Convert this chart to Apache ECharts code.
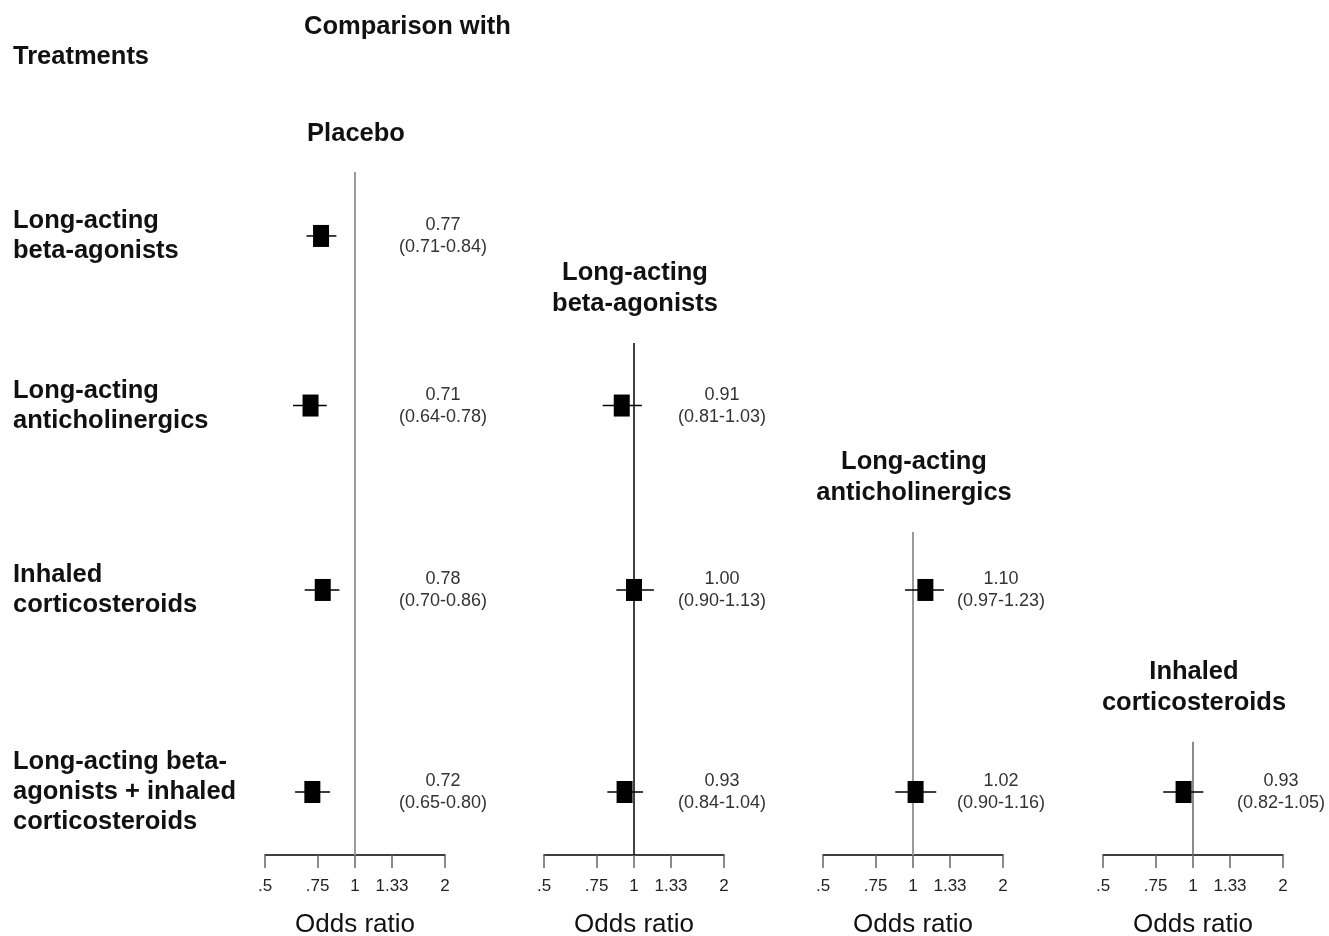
<!DOCTYPE html>
<html>
<head>
<meta charset="utf-8">
<script src="https://cdn.jsdelivr.net/npm/echarts@6/dist/echarts.min.js"></script>
<style>
html,body{margin:0;padding:0;background:#fff;}
#chart{width:1329px;height:936px;}
</style>
</head>
<body>
<div id="chart"></div>
<script>
// ---------- DATA ----------
const treatments = [
  'Long-acting\nbeta-agonists',
  'Long-acting\nanticholinergics',
  'Inhaled\ncorticosteroids',
  'Long-acting beta-\nagonists + inhaled\ncorticosteroids'
];
const comparators = [
  'Placebo',
  'Long-acting\nbeta-agonists',
  'Long-acting\nanticholinergics',
  'Inhaled\ncorticosteroids'
];
const tickValues = [0.5, 0.75, 1, 1.33, 2];
const tickLabels = ['.5', '.75', '1', '1.33', '2'];
const axisTitle = 'Odds ratio';
const headerLeft = 'Treatments';
const headerRight = 'Comparison with';

// Comparison with Placebo (rows: treatments 0..3)
const placeboRows = [0, 1, 2, 3];
const placeboOR = [0.77, 0.71, 0.78, 0.72];
const placeboLo = [0.71, 0.64, 0.70, 0.65];
const placeboHi = [0.84, 0.78, 0.86, 0.80];
// Comparison with Long-acting beta-agonists
const labaRows = [1, 2, 3];
const labaOR = [0.91, 1.00, 0.93];
const labaLo = [0.81, 0.90, 0.84];
const labaHi = [1.03, 1.13, 1.04];
// Comparison with Long-acting anticholinergics
const lamaRows = [2, 3];
const lamaOR = [1.10, 1.02];
const lamaLo = [0.97, 0.90];
const lamaHi = [1.23, 1.16];
// Comparison with Inhaled corticosteroids
const icsRows = [3];
const icsOR = [0.93];
const icsLo = [0.82];
const icsHi = [1.05];

// ---------- LAYOUT (not data) ----------
const rowPos = [1, 1.915, 2.91, 4];         // vertical placement of rows (row units)
const panelLineTop = [0.655, 1.577, 2.597, 3.729]; // where each reference line starts
const yMin = 0.655, yMax = 4.34;
const gridLefts = [265, 544, 823, 1103];
const gridWidth = 180;
const refColors = ['#9a9a9a', '#000000', '#9a9a9a', '#666666'];
const refWidths = [2, 1.5, 2, 1.5];
const FONT = '"Liberation Sans", Arial, Helvetica, sans-serif';

const panels = [
  {rows: placeboRows, or: placeboOR, lo: placeboLo, hi: placeboHi},
  {rows: labaRows, or: labaOR, lo: labaLo, hi: labaHi},
  {rows: lamaRows, or: lamaOR, lo: lamaLo, hi: lamaHi},
  {rows: icsRows, or: icsOR, lo: icsLo, hi: icsHi}
];

const L2 = v => Math.log2(v);
const tickPos = tickValues.map(L2);

const grids = [], xAxes = [], yAxes = [], series = [];

panels.forEach((p, k) => {
  grids.push({left: gridLefts[k], width: gridWidth, top: 172, bottom: 81,
              containLabel: false, outerBoundsMode: 'none'});
  xAxes.push({
    type: 'value', gridIndex: k, min: L2(0.5), max: L2(2),
    name: axisTitle, nameLocation: 'middle', nameGap: 57,
    nameTextStyle: {fontFamily: FONT, fontSize: 26, color: '#111'},
    axisLine: {show: true, lineStyle: {color: '#000', width: 1.5}},
    axisTick: {show: true, length: 13, customValues: tickPos, lineStyle: {color: '#666', width: 1.5}},
    axisLabel: {
      show: true, customValues: tickPos, margin: 23,
      fontFamily: FONT, fontSize: 17, color: '#222',
      formatter: v => {
        const i = tickPos.findIndex(t => Math.abs(t - v) < 1e-6);
        return i >= 0 ? tickLabels[i] : '';
      }
    },
    splitLine: {show: false}
  });
  yAxes.push({type: 'value', gridIndex: k, min: yMin, max: yMax, inverse: true, show: false});

  // reference line at OR = 1 with comparator title above it
  series.push({
    type: 'custom', xAxisIndex: k, yAxisIndex: k, clip: false, silent: true,
    data: [[L2(1), panelLineTop[k], yMax]],
    renderItem: (params, api) => {
      const a = api.coord([api.value(0), api.value(1)]);
      const b = api.coord([api.value(0), api.value(2)]);
      return {type: 'group', children: [
        {type: 'line', shape: {x1: a[0], y1: a[1], x2: b[0], y2: b[1]},
         style: {stroke: refColors[k], lineWidth: refWidths[k]}},
        {type: 'text', x: a[0] + 1, y: a[1] - 23,
         style: {text: comparators[k], fill: '#111', font: 'bold 25.5px ' + FONT,
                 align: 'center', verticalAlign: 'bottom', lineHeight: 31}}
      ]};
    }
  });

  // estimates: whisker + box + value label
  series.push({
    type: 'custom', xAxisIndex: k, yAxisIndex: k, clip: false, silent: true,
    data: p.rows.map((r, i) => [L2(p.or[i]), L2(p.lo[i]), L2(p.hi[i]), rowPos[r], i]),
    renderItem: (params, api) => {
      const y = api.value(3);
      const i = api.value(4);
      const c = api.coord([api.value(0), y]);
      const l = api.coord([api.value(1), y]);
      const h = api.coord([api.value(2), y]);
      const t = api.coord([L2(2), y]);
      const txt = p.or[i].toFixed(2) + '\n(' + p.lo[i].toFixed(2) + '-' + p.hi[i].toFixed(2) + ')';
      return {type: 'group', children: [
        {type: 'line', shape: {x1: l[0] - 4, y1: l[1], x2: h[0] + 4, y2: h[1]},
         style: {stroke: '#000', lineWidth: 1.5}},
        {type: 'rect', shape: {x: c[0] - 8, y: c[1] - 11, width: 16, height: 22},
         style: {fill: '#000'}},
        {type: 'text', x: t[0] - 2, y: t[1],
         style: {text: txt, fill: '#333', font: '18px ' + FONT,
                 align: 'center', verticalAlign: 'middle', lineHeight: 22}}
      ]};
    }
  });
});

// treatment (row) labels on the far left, attached to panel 1 rows
series.push({
  type: 'custom', xAxisIndex: 0, yAxisIndex: 0, clip: false, silent: true,
  data: treatments.map((t, i) => [L2(0.5), rowPos[i], i]),
  renderItem: (params, api) => {
    const c = api.coord([api.value(0), api.value(1)]);
    return {type: 'text', x: c[0] - 252, y: c[1],
      style: {text: treatments[api.value(2)], fill: '#111', font: 'bold 25.5px ' + FONT,
              align: 'left', verticalAlign: 'middle', lineHeight: 30}};
  }
});

const chart = echarts.init(document.getElementById('chart'), null, {renderer: 'canvas'});
chart.setOption({
  backgroundColor: '#fff',
  animation: false,
  title: [
    {text: headerRight, left: 304, top: 14, padding: 0,
     textStyle: {fontFamily: FONT, fontSize: 25.5, fontWeight: 'bold', color: '#111'}},
    {text: headerLeft, left: 13, top: 44, padding: 0,
     textStyle: {fontFamily: FONT, fontSize: 25.5, fontWeight: 'bold', color: '#111'}}
  ],
  grid: grids,
  xAxis: xAxes,
  yAxis: yAxes,
  series: series
});
</script>
</body>
</html>
